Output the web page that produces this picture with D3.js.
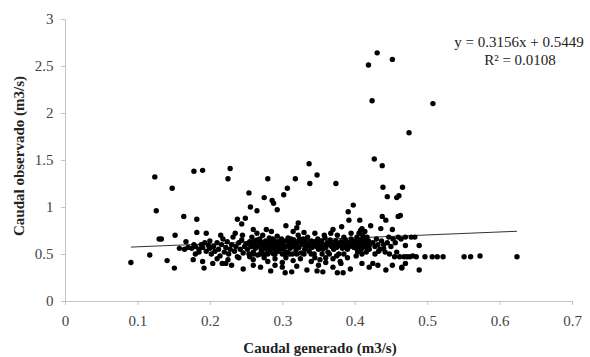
<!DOCTYPE html>
<html>
<head>
<meta charset="utf-8">
<script src="https://cdn.jsdelivr.net/npm/d3@7"></script>
<style>
  body { margin: 0; background: #fff; }
  svg text { font-family: "Liberation Serif", "DejaVu Serif", serif; }
</style>
</head>
<body>
<div id="chart"></div>
<script>
// points, grouped by region [caudal generado, caudal observado]
let puntosAltos = [
  [0.124,1.32],[0.148,1.2],[0.178,1.38],[0.19,1.39],[0.126,0.96],[0.164,0.9],[0.182,0.87],
  [0.13,0.66],[0.133,0.66],[0.152,0.7],[0.182,0.73],[0.195,0.72],[0.167,0.63],[0.18,0.5],
  [0.228,1.41],[0.225,1.3],[0.28,1.3],[0.318,1.3],[0.337,1.46],[0.307,1.2],[0.254,1.15],
  [0.275,1.1],[0.286,1.07],[0.288,1.04],[0.302,1.13],[0.256,1.0],[0.265,0.96],[0.293,0.97],
  [0.238,0.87],[0.249,0.88],[0.244,0.82],[0.322,0.83],[0.26,0.76],[0.278,0.76],
  [0.348,1.34],[0.338,1.25],[0.374,1.25],[0.427,1.51],[0.438,1.44],[0.439,1.21],[0.466,1.21],
  [0.445,1.11],[0.458,1.1],[0.461,1.12],[0.398,1.02],[0.391,0.95],[0.392,0.86],[0.407,0.86],
  [0.438,0.9],[0.443,0.86],[0.46,0.9],[0.37,0.76],[0.382,0.79],[0.41,0.77],[0.422,0.8],
  [0.436,0.77],[0.452,0.76],[0.463,0.91],
  [0.431,2.64],[0.419,2.51],[0.452,2.57],[0.424,2.13],[0.508,2.1],[0.475,1.79]
];

let puntosBajos = [
  [0.091,0.41],[0.117,0.49],[0.141,0.43],[0.151,0.35],[0.177,0.44],[0.19,0.42],[0.192,0.35],
  [0.204,0.4],[0.217,0.4],[0.222,0.4],[0.246,0.34],[0.284,0.32],[0.304,0.3],[0.313,0.31],
  [0.334,0.33],[0.348,0.32],[0.356,0.31],[0.376,0.3],[0.384,0.3],[0.394,0.34],[0.381,0.4],
  [0.425,0.4],[0.432,0.38],[0.443,0.33],[0.452,0.38],[0.465,0.36],[0.47,0.4],[0.465,0.35],
  [0.489,0.33],[0.23,0.38],[0.26,0.38],[0.27,0.36],[0.29,0.38],[0.3,0.36],[0.32,0.37],
  [0.35,0.38],[0.36,0.41],[0.37,0.36],[0.41,0.4],[0.42,0.36]
];

let puntosBanda = [
  [0.158,0.56],[0.165,0.55],[0.17,0.57],[0.175,0.56],[0.18,0.58],[0.185,0.55],[0.188,0.6],
  [0.19,0.57],[0.193,0.62],[0.195,0.53],[0.198,0.59],[0.185,0.52],[0.178,0.6],[0.2,0.56],
  [0.2,0.64],[0.202,0.5],
  [0.205,0.58],[0.207,0.53],[0.21,0.62],[0.212,0.55],[0.214,0.48],[0.216,0.6],[0.218,0.66],
  [0.22,0.52],[0.222,0.57],[0.224,0.63],[0.226,0.5],[0.228,0.55],[0.23,0.6],[0.232,0.68],
  [0.234,0.53],[0.236,0.58],[0.238,0.47],[0.24,0.62],[0.242,0.55],[0.244,0.65],[0.246,0.51],
  [0.248,0.58],[0.25,0.61],[0.21,0.45],[0.225,0.44],[0.24,0.46],[0.215,0.7],[0.235,0.72],
  [0.245,0.7],
  [0.252,0.55],[0.254,0.5],[0.255,0.63],[0.257,0.58],[0.258,0.68],[0.26,0.52],[0.262,0.6],
  [0.263,0.56],[0.265,0.65],[0.266,0.49],[0.268,0.62],[0.27,0.57],[0.271,0.53],[0.273,0.7],
  [0.274,0.6],[0.276,0.5],[0.277,0.64],[0.279,0.55],[0.28,0.59],[0.282,0.67],[0.283,0.52],
  [0.285,0.61],[0.286,0.57],[0.288,0.5],[0.289,0.64],[0.29,0.55],[0.292,0.6],[0.293,0.69],
  [0.295,0.53],[0.296,0.58],[0.298,0.62],[0.3,0.5],
  [0.256,0.6],[0.261,0.64],[0.264,0.58],[0.269,0.66],[0.272,0.62],[0.275,0.56],[0.278,0.61],
  [0.281,0.63],[0.284,0.55],[0.287,0.66],[0.291,0.58],[0.294,0.63],[0.297,0.56],[0.299,0.66],
  [0.26,0.5],[0.27,0.5],[0.28,0.5],[0.29,0.5],[0.255,0.47],[0.275,0.46],[0.29,0.45],
  [0.265,0.72],[0.285,0.74],[0.28,0.42],[0.26,0.44],
  [0.301,0.6],[0.302,0.55],[0.304,0.64],[0.305,0.58],[0.307,0.52],[0.308,0.67],[0.31,0.6],
  [0.311,0.56],[0.313,0.62],[0.314,0.5],[0.316,0.65],[0.317,0.58],[0.319,0.54],[0.32,0.61],
  [0.322,0.7],[0.323,0.57],[0.325,0.63],[0.326,0.51],[0.328,0.6],[0.329,0.66],[0.331,0.55],
  [0.332,0.62],[0.334,0.58],[0.335,0.68],[0.337,0.53],[0.338,0.61],[0.34,0.64],[0.341,0.57],
  [0.343,0.6],[0.344,0.5],[0.346,0.63],[0.347,0.58],[0.349,0.66],[0.35,0.55],
  [0.303,0.5],[0.309,0.62],[0.312,0.66],[0.315,0.6],[0.318,0.63],[0.321,0.58],[0.324,0.66],
  [0.327,0.62],[0.33,0.6],[0.333,0.65],[0.336,0.6],[0.339,0.58],[0.342,0.63],[0.345,0.61],
  [0.348,0.6],[0.31,0.5],[0.32,0.5],[0.33,0.5],[0.34,0.5],[0.305,0.46],[0.325,0.45],
  [0.345,0.46],[0.315,0.74],[0.33,0.73],[0.345,0.72],[0.3,0.41],[0.315,0.43],[0.34,0.42],
  [0.32,0.78],[0.305,0.8],
  [0.351,0.61],[0.353,0.58],[0.354,0.64],[0.356,0.55],[0.357,0.6],[0.359,0.67],[0.36,0.57],
  [0.362,0.62],[0.363,0.52],[0.365,0.6],[0.366,0.65],[0.368,0.58],[0.369,0.62],[0.371,0.55],
  [0.372,0.6],[0.374,0.64],[0.375,0.57],[0.377,0.61],[0.378,0.5],[0.38,0.59],[0.381,0.63],
  [0.383,0.56],[0.384,0.61],[0.386,0.58],[0.387,0.65],[0.389,0.6],[0.39,0.55],[0.392,0.62],
  [0.393,0.58],[0.395,0.66],[0.396,0.6],[0.398,0.63],[0.399,0.57],
  [0.355,0.5],[0.365,0.5],[0.375,0.48],[0.385,0.5],[0.36,0.46],[0.37,0.45],[0.39,0.46],
  [0.358,0.7],[0.367,0.72],[0.376,0.7],[0.385,0.68],[0.395,0.72],[0.352,0.44],[0.38,0.42],
  [0.4,0.6],[0.401,0.64],[0.402,0.56],[0.403,0.68],[0.404,0.62],[0.405,0.58],[0.406,0.72],
  [0.407,0.6],[0.408,0.65],[0.409,0.55],[0.41,0.62],[0.411,0.7],[0.412,0.58],[0.413,0.66],
  [0.414,0.6],[0.415,0.63],[0.416,0.57],[0.417,0.68],[0.418,0.61],[0.419,0.64],[0.42,0.59],
  [0.404,0.52],[0.41,0.5],[0.416,0.52],[0.408,0.75],[0.414,0.74],[0.402,0.48],[0.42,0.55],
  [0.425,0.62],[0.428,0.58],[0.43,0.66],[0.432,0.6],[0.435,0.55],[0.437,0.64],[0.44,0.6],
  [0.442,0.52],[0.445,0.62],[0.447,0.68],[0.45,0.58],[0.453,0.66],[0.456,0.62],[0.46,0.68],
  [0.464,0.66],[0.428,0.5],[0.433,0.53],[0.44,0.56],[0.448,0.5],[0.455,0.47],[0.462,0.47],
  [0.468,0.47],[0.472,0.47],[0.476,0.47],[0.48,0.48],[0.485,0.47],[0.458,0.52],[0.47,0.59],
  [0.489,0.59],[0.47,0.68],[0.478,0.68],[0.483,0.68],[0.497,0.47],[0.507,0.47],[0.514,0.47],
  [0.522,0.47],[0.551,0.47],[0.56,0.47],[0.573,0.48],[0.624,0.47]
];

let xTicks = [0, 0.1, 0.2, 0.3, 0.4, 0.5, 0.6, 0.7];
let yTicks = [0, 0.5, 1, 1.5, 2, 2.5, 3];

// trend line coefficients shown on the chart
let pendiente = 0.3156;
let intercepto = 0.5449;
let r2 = 0.0108;

let svg_width = 590;
let svg_height = 357;

let datos = puntosAltos.concat(puntosBajos, puntosBanda);

let svg = d3.select('#chart')
    .append('svg')
    .attr('width', svg_width)
    .attr('height', svg_height);

let x = d3.scaleLinear().domain([0, 0.7]).range([65, 572]);
let y = d3.scaleLinear().domain([0, 3]).range([301, 19]);

// axes
let xAxis = svg.append('g')
    .attr('transform', 'translate(0,' + y(0) + ')')
    .call(d3.axisBottom(x).tickValues(xTicks).tickSize(4).tickFormat(d3.format('')));

let yAxis = svg.append('g')
    .attr('transform', 'translate(' + x(0) + ',0)')
    .call(d3.axisLeft(y).tickValues(yTicks).tickSize(4).tickFormat(d3.format('')));

svg.selectAll('.domain, .tick line').attr('stroke', '#c4c4c4');
xAxis.selectAll('text').attr('font-size', 15).attr('fill', '#444').attr('dy', '1.2em');
yAxis.selectAll('text').attr('font-size', 15).attr('fill', '#444').attr('dx', '-0.3em');
xAxis.selectAll('text').style('font-family', '"Liberation Serif", serif');
yAxis.selectAll('text').style('font-family', '"Liberation Serif", serif');

// trend line over the range of the data
let ext = d3.extent(datos, d => d[0]);
svg.append('line')
    .attr('x1', x(ext[0]))
    .attr('y1', y(pendiente * ext[0] + intercepto))
    .attr('x2', x(ext[1]))
    .attr('y2', y(pendiente * ext[1] + intercepto))
    .attr('stroke', '#333')
    .attr('stroke-width', 1);

// points, small round blobs like the scanned markers
svg.append('g').selectAll('circle')
    .data(datos)
    .enter()
    .append('circle')
    .attr('cx', d => x(d[0]))
    .attr('cy', d => y(d[1]))
    .attr('r', 2.7)
    .attr('fill', '#000');

// equation
svg.append('text')
    .attr('x', 519).attr('y', 47)
    .attr('text-anchor', 'middle')
    .attr('font-size', 15)
    .attr('fill', '#222')
    .text('y = ' + pendiente + 'x + ' + intercepto);

svg.append('text')
    .attr('x', 520).attr('y', 65)
    .attr('text-anchor', 'middle')
    .attr('font-size', 15)
    .attr('fill', '#222')
    .text('R² = ' + r2);

// axis titles
svg.append('text')
    .attr('x', 320).attr('y', 353)
    .attr('text-anchor', 'middle')
    .attr('font-size', 15)
    .attr('font-weight', 'bold')
    .attr('fill', '#222')
    .text('Caudal generado (m3/s)');

svg.append('text')
    .attr('transform', 'translate(24,156) rotate(-90)')
    .attr('text-anchor', 'middle')
    .attr('font-size', 15)
    .attr('font-weight', 'bold')
    .attr('fill', '#222')
    .text('Caudal observado (m3/s)');
</script>
</body>
</html>
